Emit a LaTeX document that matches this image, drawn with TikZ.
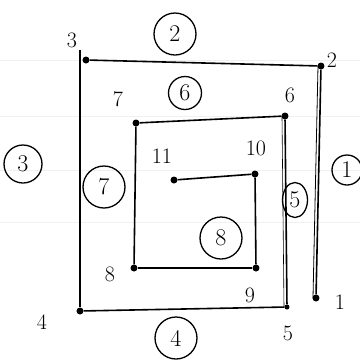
\documentclass[tikz,border=0pt]{standalone}
\usetikzlibrary{shapes.geometric}
\begin{document}
\begin{tikzpicture}[x=1pt,y=-1pt,
  pt/.style={circle,fill=black,inner sep=0pt,minimum size=7pt},
  lbl/.style={font=\fontsize{22}{22}\selectfont},
  cnum/.style={draw,circle,line width=1.3pt,font=\fontsize{24}{24}\selectfont,inner sep=0pt,minimum size=34pt},
  edge/.style={line width=1.6pt},
  rule/.style={black!6,line width=1pt}]
\useasboundingbox (0,0) rectangle (360,360);
\fill[white] (0,0) rectangle (360,360);
\foreach \yy in {60,116,170,222} \draw[rule] (0,\yy) -- (360,\yy);
% points
\node[pt] (p1) at (316,298) {};
\node[pt] (p2) at (321,66) {};
\node[pt] (p3) at (86,60) {};
\node[pt] (p4) at (80,311) {};
\node[pt,minimum size=5pt] (p5) at (287,307) {};
\node[pt] (p6) at (285,116) {};
\node[pt] (p7) at (136,123) {};
\node[pt] (p8) at (134,268) {};
\node[pt] (p9) at (256,268) {};
\node[pt] (p10) at (255,174) {};
\node[pt] (p11) at (174,180) {};
\coordinate (t3) at (80,50);
% edges
\draw[edge] (p1) -- (p2);
\draw[edge,line width=0.8pt] ([xshift=-3pt]p1.center) -- ([xshift=-3pt]p2.center);
\draw[edge] (p2) -- (p3);
\draw[edge] (t3) -- (p4);
\draw[edge] (p4) -- (p5);
\draw[edge] (p5) -- (p6);
\draw[edge,line width=0.6pt] ([xshift=-3pt]p5.center) -- ([xshift=-3pt]p6.center);
\draw[edge] (p6) -- (p7);
\draw[edge] (p7) -- (p8);
\draw[edge] (p8) -- (p9);
\draw[edge] (p9) -- (p10);
\draw[edge] (p10) -- (p11);
% point labels
\node[lbl] (l1) at (340,302) {1};
\node[lbl] (l2) at (332,60) {2};
\node[lbl] (l3) at (72,40) {3};
\node[lbl] (l4) at (42,322) {4};
\node[lbl] (l5) at (288,333) {5};
\node[lbl] (l6) at (290,95) {6};
\node[lbl] (l7) at (118,99) {7};
\node[lbl] (l8) at (110,274) {8};
\node[lbl] (l9) at (250,295) {9};
\node[lbl] (l10) at (256,148) {10};
\node[lbl] (l11) at (162,156) {11};
% circled edge numbers
\node[cnum,minimum size=30pt] (c1) at (347,170) {1};
\node[cnum,minimum size=42pt] (c2) at (175,34) {2};
\node[cnum,minimum size=38pt] (c3) at (23,164) {3};
\node[cnum,minimum size=42pt] (c4) at (176,338) {4};
\node[cnum,ellipse,minimum width=25pt,minimum height=35pt] (c5) at (295,200) {5};
\node[cnum,minimum size=33pt] (c6) at (185,93) {6};
\node[cnum,minimum size=42pt] (c7) at (104,187) {7};
\node[cnum,minimum size=42pt] (c8) at (221,238) {8};
\end{tikzpicture}
\end{document}
